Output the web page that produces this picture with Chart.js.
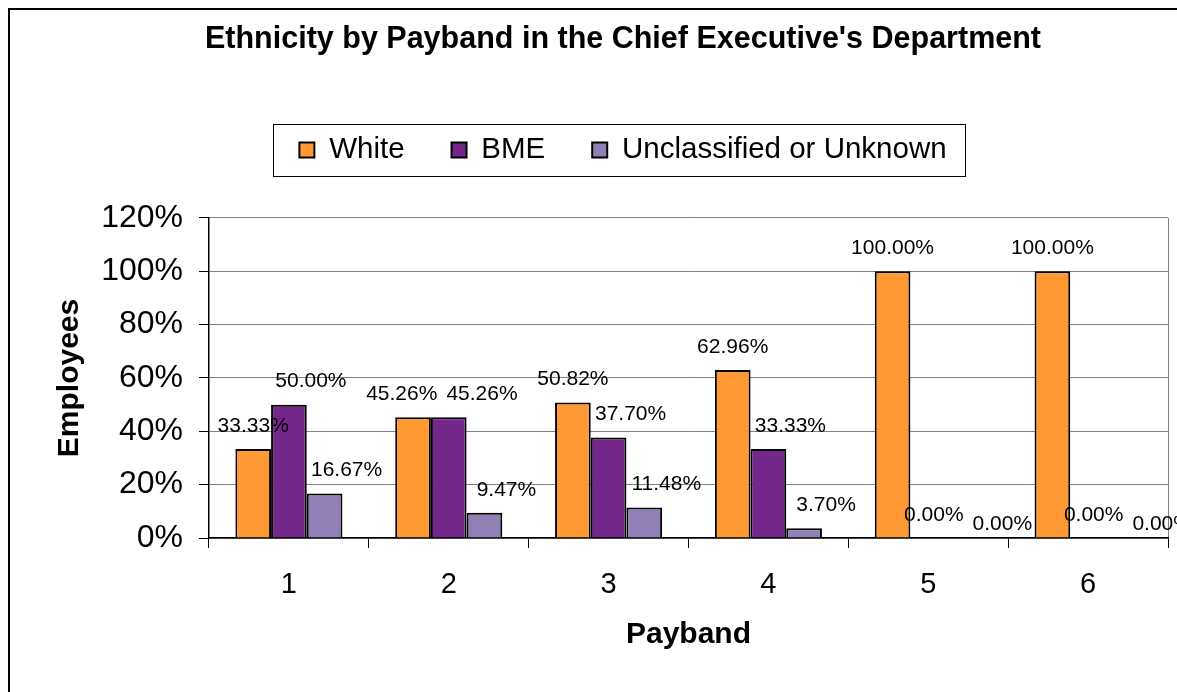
<!DOCTYPE html>
<html lang="en">
  <head>
    <meta charset="UTF-8" />
    <title>Ethnicity by Payband</title>
    <script src="https://cdn.jsdelivr.net/npm/chart.js@4.4.1/dist/chart.umd.min.js"></script>
    <style>
      html, body { margin: 0; padding: 0; background: #fff; overflow: hidden; }
      .wrap { width: 1177px; height: 692px; }
    </style>
  </head>
  <body>
    <div class="wrap">
      <canvas id="myChart" width="1177" height="692"></canvas>
    </div>
    <script>
      // values (percent of employees)
      let paybands = ["1", "2", "3", "4", "5", "6"];
      let white = [33.33, 45.26, 50.82, 62.96, 100, 100];
      let bme = [50.0, 45.26, 37.7, 33.33, 0, 0];
      let unknown = [16.67, 9.47, 11.48, 3.7, 0, 0];
      let yTicks = [0, 20, 40, 60, 80, 100, 120];

      let font = "'Liberation Sans', Arial, sans-serif";

      // frame around the whole chart + box around the legend
      let frame = {
        id: "frame",
        beforeDraw(chart) {
          let c = chart.ctx;
          c.save();
          c.fillStyle = "#fff";
          c.fillRect(0, 0, chart.width, chart.height);
          c.strokeStyle = "#000";
          c.lineWidth = 2;
          c.strokeRect(9, 9, 2000, 2000);
          c.restore();
        },
        afterDraw(chart) {
          let boxes = chart.legend.legendHitBoxes;
          if (!boxes || !boxes.length) return;
          let l = Math.min(...boxes.map((b) => b.left));
          let r = Math.max(...boxes.map((b) => b.left + b.width));
          let t = Math.min(...boxes.map((b) => b.top));
          let bt = Math.max(...boxes.map((b) => b.top + b.height));
          let c = chart.ctx;
          c.save();
          c.strokeStyle = "#000";
          c.lineWidth = 1;
          c.strokeRect(Math.round(l - 26) + 0.5, Math.round(t - 11) + 0.5, Math.round(r - l + 45), Math.round(bt - t + 22));
          c.restore();
        },
      };

      // value labels above each bar, pushed apart when two in a group collide
      let valueLabels = {
        id: "valueLabels",
        afterDatasetsDraw(chart, args, opts) {
          let c = chart.ctx;
          c.save();
          c.font = "21px " + font;
          c.fillStyle = "#000";
          c.textAlign = "center";
          c.textBaseline = "middle";
          let n = chart.data.labels.length;
          for (let j = 0; j < n; j++) {
            let items = chart.data.datasets.map((ds, i) => {
              let bar = chart.getDatasetMeta(i).data[j];
              let text = ds.data[j].toFixed(2) + "%";
              return { text, x: bar.x + (opts.shift[i] || 0), y: bar.y - 23, w: c.measureText(text).width };
            });
            for (let k = 0; k < items.length - 1; k++) {
              let a = items[k], b = items[k + 1];
              let need = (a.w + b.w) / 2 + 9 - (b.x - a.x);
              if (need > 0 && Math.abs(a.y - b.y) < 22) {
                a.x -= need / 2;
                b.x += need / 2;
                if (need > 28) b.y += opts.drop; // big overlap: also step down
              }
            }
            items.forEach((it) => c.fillText(it.text, it.x, it.y));
          }
          c.restore();
        },
      };

      let data = {
        labels: paybands,
        datasets: [
          {
            label: "White",
            data: white,
            backgroundColor: "#FF9933",
          },
          {
            label: "BME",
            data: bme,
            backgroundColor: "#74278A",
          },
          {
            label: "Unclassified or Unknown",
            data: unknown,
            backgroundColor: "#9180B6",
          },
        ],
      };

      let config = {
        type: "bar",
        data: data,
        plugins: [frame, valueLabels],
        options: {
          responsive: false,
          animation: false,
          layout: { padding: { left: 78, right: 9, top: 0, bottom: 0 } },
          datasets: {
            bar: {
              borderColor: "#000",
              borderWidth: 2,
              categoryPercentage: 0.67,
              barPercentage: 1,
            },
          },
          plugins: {
            title: {
              display: true,
              text: "Ethnicity by Payband in the Chief Executive's Department",
              color: "#000",
              font: { family: font, size: 30.5, weight: "bold" },
              padding: { top: 21, bottom: 30.6 },
            },
            legend: {
              position: "top",
              labels: {
                color: "#000",
                font: { family: font, size: 29.5 },
                boxWidth: 15,
                boxHeight: 15,
                padding: 47,
              },
            },
            // empty spacer between the legend and the plot
            subtitle: {
              display: true,
              text: "",
              weight: 500,
              font: { size: 10 },
              padding: { top: 31.25, bottom: 0 },
            },
            tooltip: { enabled: false },
            valueLabels: { shift: [0, 22, 22], drop: 9 },
          },
          scales: {
            x: {
              afterFit: (s) => { s.height = 154; },
              grid: {
                offset: true,
                drawOnChartArea: true,
                color: (c) => (c.type === "scale" ? "#808080" : "rgba(0,0,0,0)"),
                tickColor: "#000",
                tickLength: 10,
              },
              border: { color: "#000", width: 1.5 },
              ticks: {
                color: "#000",
                font: { family: font, size: 29 },
                padding: 20,
              },
              title: {
                display: true,
                text: "Payband",
                color: "#000",
                font: { family: font, size: 30, weight: "bold" },
                padding: { bottom: 39 },
              },
            },
            y: {
              min: 0,
              max: 120,
              afterFit: (s) => { s.width = 131; },
              afterBuildTicks: (s) => {
                s.ticks = yTicks.map((v) => ({ value: v }));
              },
              grid: {
                color: "#808080",
                lineWidth: 1,
                tickColor: "#000",
                tickLength: 10,
              },
              border: { color: "#000", width: 1.5 },
              ticks: {
                color: "#000",
                font: { family: font, size: 32 },
                padding: 16,
                callback: (v) => v + "%",
              },
              title: {
                display: true,
                text: "Employees",
                color: "#000",
                font: { family: font, size: 30, weight: "bold" },
                padding: { top: -26 },
              },
            },
          },
        },
      };

      let myChart = new Chart(document.getElementById("myChart"), config);
    </script>
  </body>
</html>
